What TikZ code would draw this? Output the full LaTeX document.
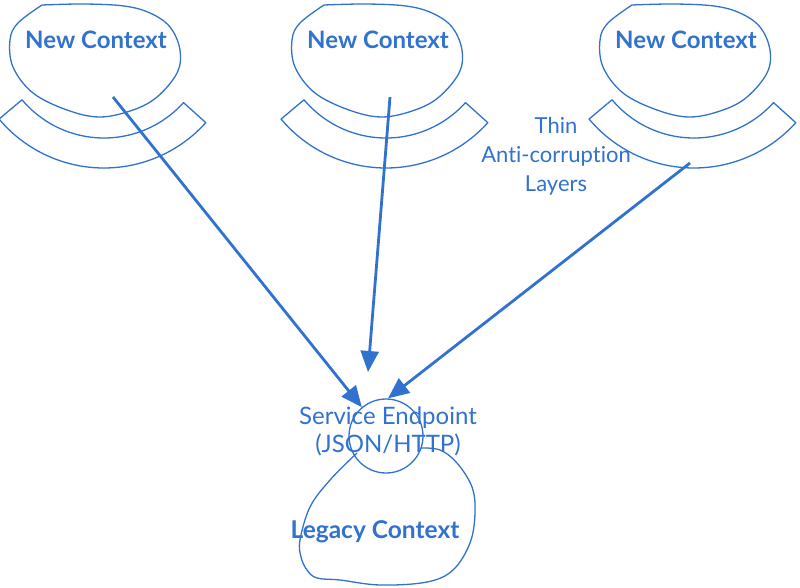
\documentclass[tikz,border=0pt]{standalone}
\usepackage{fontspec}
\setmainfont{Lato}[Ligatures=NoCommon]
\usetikzlibrary{arrows.meta}
\definecolor{acblue}{RGB}{48,114,206}

\begin{document}
\begin{tikzpicture}[x=1pt, y=-1pt,
    sketch/.style={draw=acblue, line width=1.3pt, line join=round},
    ctx/.style={text=acblue, font=\fontsize{24}{28}\selectfont\bfseries},
    note/.style={text=acblue, align=center, font=\fontsize{22}{29}\selectfont},
    feed/.style={draw=acblue, line width=2.8pt, -{Triangle[length=21pt, width=18pt]}},
]
\useasboundingbox (0,0) rectangle (800,587);
\foreach \n/\cx in {1/104, 2/386, 3/694} {
  \begin{scope}[shift={(\cx,0)}]
    \draw[sketch] plot[smooth, tension=0.6] coordinates {(-62,5) (-20,4) (20,6) (46,13) (66,27) (76,50) (73,73) (53,97) (29,110) (-4,117) (-37,110) (-71,93) (-91,67) (-94,40) (-86,23) (-62,5)};
    \draw[sketch, shift={(0,31)}] (140:107) arc[start angle=140, end angle=42, radius=107] -- (42:137) arc[start angle=42, end angle=140, radius=137] -- cycle;
  \end{scope}
  \node[ctx] (ctx\n) at ({\cx-8},40) {New Context};
}
\coordinate (src1) at (113,97);
\coordinate (src2) at (390,97);
\coordinate (src3) at (690,163);
\coordinate (drop) at (368,372);
\node[note] (acl) at (556,156) {Thin\\Anti-corruption\\Layers};
\node[draw=acblue, line width=1.3pt, circle, minimum size=74pt, inner sep=0pt] (port) at (386,436) {};
\node[note, font=\fontsize{24}{28}\selectfont] (ep) at (388,431) {Service Endpoint\\(JSON/HTTP)};
\draw[sketch] plot[smooth, tension=0.6] coordinates {(357,453) (330,480) (310,507) (300,540) (301,557) (307,570) (317,578) (340,580) (380,585) (427,582) (453,570) (470,543) (475,513) (472,487) (457,463) (440,450) (421,448)};
\node[ctx, font=\fontsize{24.5}{28}\selectfont\bfseries] (legacy) at (375,532) {Legacy Context};
\draw[feed] (src1) -- (port.130);
\draw[feed] (src2) -- (drop);
\draw[feed] (src3) -- (port.87);
\end{tikzpicture}
\end{document}
